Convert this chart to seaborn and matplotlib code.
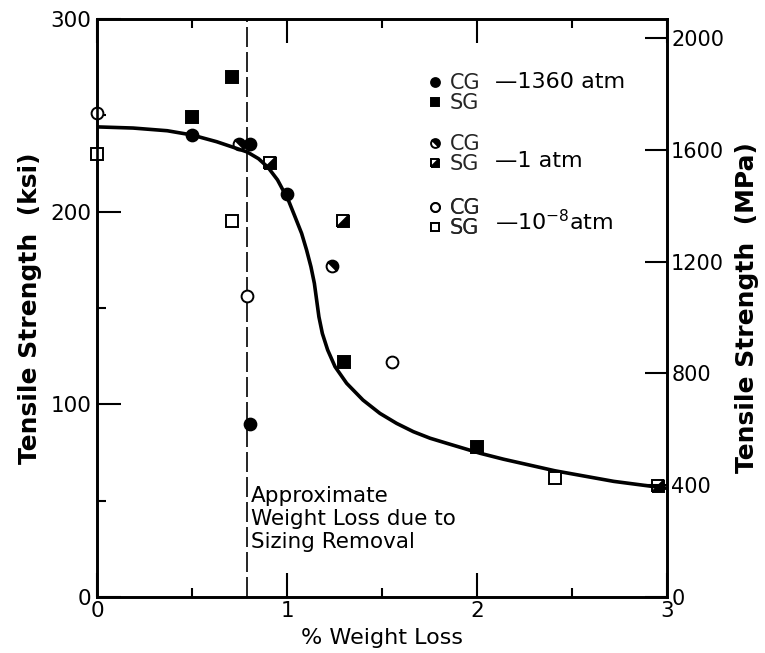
import matplotlib
matplotlib.use('Agg')
import matplotlib.pyplot as plt
from matplotlib.markers import MarkerStyle
from matplotlib.transforms import Affine2D
from matplotlib.ticker import MultipleLocator
import seaborn as sns

# Tensile strength (ksi) vs % weight loss
cg_1360_x = [0.5, 0.805, 1.0, 0.805]
cg_1360_y = [240, 235, 209, 90]
sg_1360_x = [0.5, 0.71, 1.30, 2.0]
sg_1360_y = [249, 270, 122, 78]

cg_1atm_x = [0.745, 1.235]
cg_1atm_y = [235, 172]
sg_1atm_x = [0.91, 1.295, 2.95]
sg_1atm_y = [225, 195, 57.5]

cg_vac_x = [0.0, 0.79, 1.55]
cg_vac_y = [251, 156, 122]
sg_vac_x = [0.0, 0.71, 2.41]
sg_vac_y = [230, 195, 62]

# hand-drawn fit curve
curve_x = [0.0, 0.19, 0.37, 0.5, 0.63, 0.79, 0.85, 0.9, 0.95, 1.007, 1.042,
           1.077, 1.103, 1.126, 1.144, 1.156, 1.168, 1.186, 1.214, 1.253,
           1.314, 1.40, 1.489, 1.577, 1.665, 1.753, 1.84, 1.928, 2.016, 2.14,
           2.23, 2.41, 2.72, 3.0]
curve_y = [244, 243.4, 242, 239.8, 236.3, 231, 227.5, 223, 216.5, 206, 197.4,
           188.7, 180.1, 171.4, 162.8, 154.1, 145.4, 136.8, 128.2, 119.5,
           110.9, 102.2, 95.3, 90.1, 85.8, 82.4, 79.8, 77.2, 74.6, 71.5,
           69.5, 65.5, 60, 56.4]

sizing_loss = 0.79
ksi_to_mpa = 6.895
mpa_ticks = [0, 400, 800, 1200, 1600, 2000]

sns.set_theme(style='ticks')
plt.rcParams['font.family'] = ['DejaVu Sans']

fig, ax = plt.subplots(figsize=(7.65, 6.53), dpi=100)
fig.subplots_adjust(left=0.1268, right=0.8719, bottom=0.0858, top=0.9709)

# half-filled markers (diagonal split)
half_circle = MarkerStyle('o', fillstyle='top', transform=Affine2D().rotate_deg(-45))
half_square = MarkerStyle('D', fillstyle='bottom', transform=Affine2D().rotate_deg(45))

mk = dict(linestyle='none', markersize=8.5, markeredgewidth=1.4,
          markeredgecolor='black', clip_on=False)

h_sg1a, = ax.plot(sg_1atm_x, sg_1atm_y, marker=half_square, markerfacecolor='black',
                  markerfacecoloralt='white', zorder=2, **mk)
h_cg1a, = ax.plot(cg_1atm_x, cg_1atm_y, marker=half_circle, markerfacecolor='black',
                  markerfacecoloralt='white', zorder=2, **mk)
h_cgv, = ax.plot(cg_vac_x, cg_vac_y, marker='o', markerfacecolor='white', zorder=4, **mk)
h_sgv, = ax.plot(sg_vac_x, sg_vac_y, marker='s', markerfacecolor='white', zorder=4, **mk)
h_cg, = ax.plot(cg_1360_x, cg_1360_y, marker='o', markerfacecolor='black', zorder=4, **mk)
h_sg, = ax.plot(sg_1360_x, sg_1360_y, marker='s', markerfacecolor='black', zorder=4, **mk)

sns.lineplot(x=curve_x, y=curve_y, sort=False, estimator=None, color='black',
             linewidth=2.6, ax=ax, zorder=3)
ax.lines[-1].set_solid_capstyle('round')
ax.lines[-1].set_solid_joinstyle('round')

ax.axvline(sizing_loss, color='black', linewidth=1.2, dashes=(12, 3), zorder=1)
ax.text(sizing_loss + 0.02, 57.5, 'Approximate\nWeight Loss due to\nSizing Removal',
        fontsize=15.5, va='top', ha='left', linespacing=1.18, color='black')

ax.set_xlim(0, 3)
ax.set_ylim(0, 300)
ax.xaxis.set_major_locator(MultipleLocator(1))
ax.xaxis.set_minor_locator(MultipleLocator(0.5))
ax.yaxis.set_major_locator(MultipleLocator(100))
ax.yaxis.set_minor_locator(MultipleLocator(50))
ax.tick_params(axis='x', which='both', direction='in', top=True, bottom=True,
               colors='black', labelsize=15.5, pad=3)
ax.tick_params(axis='y', which='both', direction='in', left=True, right=False,
               colors='black', labelsize=15.5, pad=4)
ax.tick_params(which='major', length=17, width=1.5)
ax.tick_params(which='minor', length=6.5, width=1.5)

for s in ax.spines.values():
    s.set_linewidth(1.9)
    s.set_color('black')

ax.set_xlabel('% Weight Loss', fontsize=16, labelpad=5, color='black')
ax.set_ylabel('Tensile Strength  (ksi)', fontsize=18, fontweight='bold',
              labelpad=6, color='black')

ax2 = ax.twinx()
ax2.set_ylim(0, 300 * ksi_to_mpa)
ax2.set_yticks(mpa_ticks)
ax2.tick_params(axis='y', direction='in', length=16, width=1.5, labelsize=15,
                pad=3, colors='black')
for s in ax2.spines.values():
    s.set_linewidth(1.9)
    s.set_color('black')
ax2.set_ylabel('Tensile Strength  (MPa)', fontsize=18, fontweight='bold',
               labelpad=8, color='black')

# legend: three CG/SG pairs with their pressure
groups = [((h_cg, h_sg), 0.9066, '\u20141360 atm', 0.8806),
          ((h_cg1a, h_sg1a), 0.8010, '\u20141 atm', 0.744),
          ((h_cgv, h_sgv), 0.6903, '\u201410$^{-8}$atm', 0.635)]
for handles, ytop, label, ybase in groups:
    leg = ax.legend(handles=list(handles), labels=['CG', 'SG'], loc='upper left',
                    bbox_to_anchor=(0.578, ytop), frameon=False, fontsize=15,
                    borderpad=0, borderaxespad=0, handlelength=0.8,
                    handletextpad=0.3, labelspacing=0.0, markerscale=0.75)
    ax.add_artist(leg)
    ax.text(0.698, ybase, label, transform=ax.transAxes, fontsize=16,
            va='baseline', ha='left', color='black')

fig.savefig('out.png', dpi=100)
